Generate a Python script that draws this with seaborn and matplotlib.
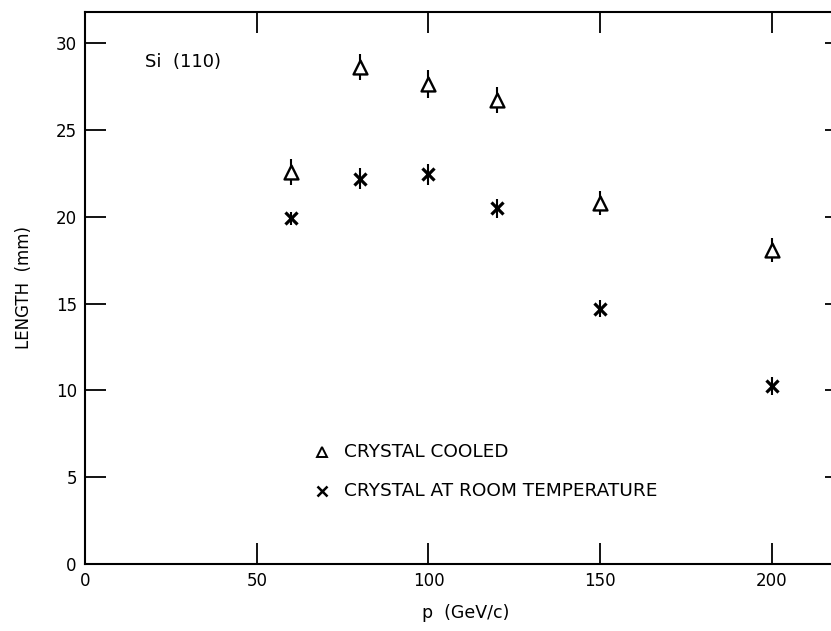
import matplotlib
matplotlib.use("Agg")
import matplotlib.pyplot as plt
import seaborn as sns
import pandas as pd
import numpy as np

# Data
p_cooled = [60, 80, 100, 120, 150, 200]
len_cooled = [22.6, 28.65, 27.65, 26.7, 20.8, 18.1]
err_cooled = [0.75, 0.75, 0.8, 0.75, 0.7, 0.7]

p_room = [60, 80, 100, 120, 150, 200]
len_room = [19.9, 22.2, 22.45, 20.5, 14.7, 10.25]
err_room = [0.35, 0.6, 0.6, 0.55, 0.5, 0.5]

x_ticks = [0, 50, 100, 150, 200]
y_ticks = [0, 5, 10, 15, 20, 25, 30]

sns.set_theme(style="ticks")
plt.rcParams['font.family'] = ['DejaVu Sans']
plt.rcParams['text.color'] = 'black'
plt.rcParams['axes.labelcolor'] = 'black'

df_c = pd.DataFrame({"p": p_cooled, "L": len_cooled, "e": err_cooled})
df_r = pd.DataFrame({"p": p_room, "L": len_room, "e": err_room})

fig = plt.figure(figsize=(8.31, 6.31), dpi=100)
ax = fig.add_axes([0.1025, 0.1062, 0.915, 0.875])

ax.errorbar(df_c["p"], df_c["L"], yerr=df_c["e"], fmt="none", ecolor="black",
            elinewidth=1.5, capsize=0, zorder=2)
ax.errorbar(df_r["p"], df_r["L"], yerr=df_r["e"], fmt="none", ecolor="black",
            elinewidth=1.5, capsize=0, zorder=2)

sns.scatterplot(data=df_c, x="p", y="L", marker="^", s=100, facecolor="white",
                edgecolor="black", linewidth=1.7, ax=ax, zorder=3, legend=False)
sns.scatterplot(data=df_r, x="p", y="L", marker="x", s=75, color="black",
                linewidth=2.3, ax=ax, zorder=3, legend=False)

ax.set_xlim(0, 221.5)
ax.set_ylim(0, 31.8)
ax.set_xticks(x_ticks)
ax.set_yticks(y_ticks)
ax.tick_params(direction="in", length=15, width=1.3, top=True, right=True,
               labelsize=12, colors="black", pad=6)
for s in ax.spines.values():
    s.set_linewidth(1.5)
    s.set_color("black")

ax.set_xlabel("p  (GeV/c)", fontsize=12.5, labelpad=10, color="black")
ax.set_ylabel("LENGTH  (mm)", fontsize=12, labelpad=16, color="black")

ax.text(17.5, 28.9, "Si  (110)", fontsize=13, va="center", ha="left", color="black")

# in-plot legend
ax.plot([69.1], [6.45], marker="^", ms=7, mfc="white", mec="black", mew=1.4,
        linestyle="none")
ax.plot([69.1], [4.2], marker="x", ms=6.5, color="black", mew=1.8,
        linestyle="none")
ax.text(75.5, 6.45, "CRYSTAL COOLED", fontsize=13.3, va="center", ha="left", color="black")
ax.text(75.5, 4.2, "CRYSTAL AT ROOM TEMPERATURE", fontsize=13.3, va="center", ha="left",
        color="black")

fig.savefig("out.png", dpi=100)
